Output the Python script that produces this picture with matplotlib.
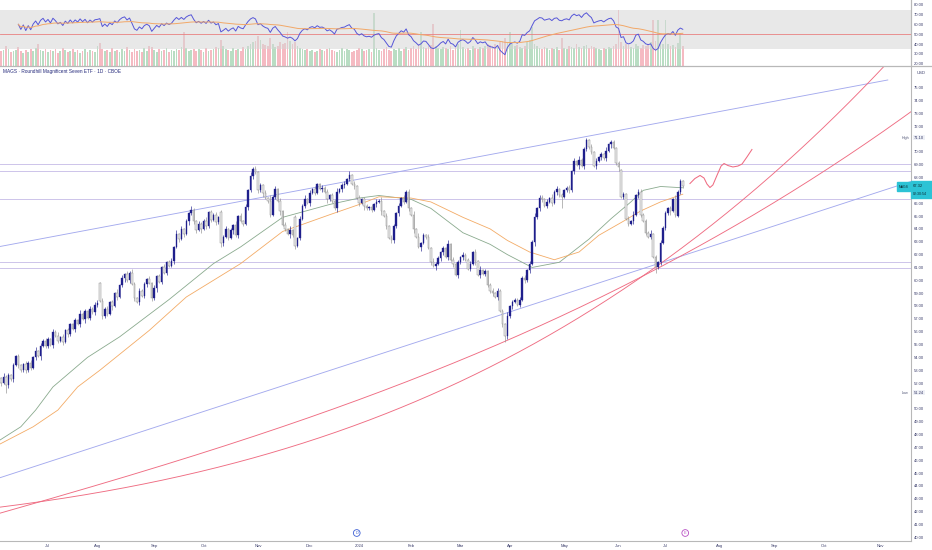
import numpy as np
import pandas as pd
import matplotlib
matplotlib.use("Agg")
import matplotlib.pyplot as plt
from matplotlib.patches import Rectangle
from matplotlib.lines import Line2D
from matplotlib.transforms import blended_transform_factory

plt.rcParams['font.family'] = ['Liberation Sans', 'DejaVu Sans']

first_day = "2023-06-02"
holidays = ["2023-06-19", "2023-07-04", "2023-09-04", "2023-11-23", "2023-12-25",
            "2024-01-01", "2024-01-15", "2024-02-19", "2024-03-29", "2024-05-27",
            "2024-06-19", "2024-07-04", "2024-09-02", "2024-11-28"]

# daily closes, MAGS, 2 Jun 2023 .. 11 Jul 2024
closes = [
    52.4, 52.0, 52.5, 51.84, 52.6, 52.3, 53.4, 54.1, 53.4, 53.0,
    53.5, 53.0, 53.6, 53.2, 54.0, 54.5, 54.1, 54.9, 55.3, 54.9,
    55.4, 55.0, 56.0, 55.7, 55.3, 55.6, 55.2, 56.1, 55.8, 56.6,
    56.2, 56.9, 56.6, 57.4, 57.0, 57.6, 57.1, 57.8, 57.5, 58.1,
    58.2, 58.4, 57.2, 57.8, 57.4, 58.3, 58.0, 59.0, 58.7, 59.6,
    60.2, 60.5, 60.0, 60.6, 59.7, 58.6, 58.3, 59.2, 58.8, 59.7,
    60.1, 59.8, 58.6, 59.4, 60.3, 59.9, 61.0, 60.6, 61.4, 61.1,
    61.5, 62.6, 63.6, 63.2, 64.0, 63.6, 64.6, 65.2, 65.5, 64.6,
    63.9, 64.4, 64.0, 64.6, 64.2, 65.3, 64.7, 65.1, 64.5, 64.9,
    62.9, 63.4, 64.0, 63.3, 63.9, 64.3, 63.5, 65.0, 64.6, 64.4,
    65.7, 67.0, 68.1, 68.7, 68.4, 67.0, 67.4, 66.8, 66.4, 66.2,
    65.1, 66.5, 67.1, 66.2, 65.4, 64.3, 64.0, 63.6, 63.9, 63.5,
    62.7, 63.3, 64.8, 65.8, 66.3, 66.0, 66.8, 67.1, 66.8, 67.5,
    67.1, 67.2, 66.9, 66.3, 66.6, 66.2, 65.6, 66.9, 67.1, 67.4,
    67.5, 67.9, 68.2, 67.5, 67.3, 66.4, 66.0, 66.3, 65.8, 65.6,
    65.7, 65.5, 65.9, 66.1, 66.2, 65.4, 65.0, 64.2, 63.3, 63.1,
    64.2, 65.2, 65.8, 66.4, 66.1, 66.9, 65.6, 65.1, 64.0, 63.4,
    62.6, 62.9, 63.5, 63.4, 62.5, 61.4, 61.1, 61.3, 61.7, 62.2,
    62.5, 61.8, 62.8, 61.6, 61.3, 60.4, 61.4, 61.8, 62.0, 61.6,
    60.9, 61.3, 62.2, 61.5, 60.4, 60.8, 60.5, 60.7, 59.6, 59.2,
    59.0, 58.7, 59.2, 57.6, 56.6, 55.7, 57.2, 58.0, 58.3, 58.5,
    58.1, 58.5, 60.2, 60.0, 60.8, 61.3, 63.0, 64.9, 65.6, 66.4,
    66.3, 65.8, 66.1, 66.4, 66.0, 66.9, 67.1, 66.6, 66.5, 67.0,
    67.2, 67.0, 68.5, 69.3, 69.0, 69.4, 68.9, 70.2, 70.9, 70.4,
    70.0, 68.9, 69.3, 69.6, 69.8, 69.5, 70.1, 70.6, 70.8, 70.3,
    69.1, 68.8, 66.5, 66.7, 64.8, 64.4, 64.6, 65.1, 66.6, 66.9,
    65.1, 64.6, 63.7, 63.4, 63.6, 61.8, 61.0, 61.4, 62.9, 64.1,
    65.2, 65.6, 65.4, 66.3, 65.1, 66.9, 67.7, 67.32,
]
gap_opens = {0: 52.1, 41: 59.8, 90: 65.3, 120: 64.9, 252: 68.6, 275: 65.0}
# wicks in tenths of a dollar above / below the body
wick_up = ("2131212121" "1212131212" "2121312121" "1213121212" "3121212131"
           "2121321212" "1212121312" "2131212131" "1212312121" "2121213121"
           "2131212121" "4121212131" "2121312121" "1212121312" "2131212121"
           "1212131212" "2121212131" "3121213121" "2131212121" "1212131212"
           "2121213121" "1212121312" "2121312121" "1212131221" "2121213111"
           "1212121312" "2121312121" "21213121")
wick_dn = ("2216212121" "1212121312" "2131212121" "1212131212" "2121213121"
           "1312121212" "2121312121" "1212121312" "2131212121" "3212131212"
           "1212121312" "2121312131" "3121212121" "1213121312" "2121212131"
           "1212131212" "2121212131" "1312121312" "2121312121" "1213121212"
           "2121253121" "1212121312" "2121213191" "1212131212" "2121212131"
           "1312121212" "2121214121" "21312121")
volumes = [
    18, 15, 16, 20, 17, 14, 15, 16, 19, 15, 13, 16, 14, 17, 15, 18, 22, 16, 15, 17,
    14, 16, 15, 17, 13, 15, 18, 16, 14, 15, 17, 14, 16, 13, 15, 17, 14, 16, 15, 14,
    20, 23, 17, 15, 16, 14, 18, 15, 16, 14, 17, 15, 19, 16, 14, 17, 15, 16, 14, 18,
    15, 20, 19, 16, 14, 17, 15, 16, 18, 14, 16, 15, 17, 16, 19, 34, 18, 15, 16, 17,
    15, 17, 16, 14, 18, 15, 16, 17, 19, 18, 26, 20, 17, 16, 15, 18, 16, 17, 15, 19,
    17, 20, 22, 24, 25, 30, 26, 22, 21, 20, 28, 22, 19, 20, 24, 22, 23, 34, 25, 22,
    24, 20, 18, 17, 16, 17, 15, 16, 14, 15, 17, 16, 15, 17, 18, 16, 15, 14, 16, 18,
    15, 17, 16, 14, 15, 16, 18, 17, 15, 16, 17, 14, 53, 18, 16, 15, 17, 19, 16, 15,
    17, 16, 18, 15, 17, 19, 16, 18, 20, 17, 22, 34, 19, 18, 20, 21, 42, 20, 18, 17,
    19, 18, 17, 20, 16, 18, 22, 36, 19, 17, 18, 16, 20, 18, 17, 19, 18, 20, 22, 21,
    20, 22, 19, 24, 25, 28, 23, 34, 22, 20, 21, 19, 18, 20, 24, 26, 39, 22, 20, 18,
    17, 19, 18, 16, 18, 17, 19, 16, 28, 18, 17, 20, 19, 18, 22, 19, 18, 20, 21, 18,
    20, 19, 18, 17, 16, 18, 17, 19, 18, 20, 22, 56, 24, 20, 22, 21, 19, 18, 22, 20,
    18, 21, 20, 22, 24, 46, 25, 46, 24, 22, 46, 22, 20, 21, 19, 23, 33, 20,
]

# moving averages (bar number, value)
ma_fast_bar = [0, 9, 15, 22, 36, 49, 69, 87, 98, 115, 134, 146, 154, 167, 175,
               188, 199, 206, 216, 227, 239, 248, 256, 261, 268, 277]
ma_fast = [47.5, 48.6, 49.9, 51.7, 54.0, 55.6, 58.5, 61.3, 62.6, 64.9, 65.9, 66.4,
           66.6, 66.3, 65.6, 63.7, 62.8, 62.0, 61.0, 61.4, 63.2, 64.8, 66.1, 67.0,
           67.3, 67.2]
ma_slow_bar = [0, 14, 24, 32, 41, 61, 76, 98, 115, 134, 146, 154, 167, 175, 188,
               199, 206, 215, 225, 235, 243, 253, 260, 268, 277]
ma_slow = [47.2, 48.6, 49.9, 51.7, 53.0, 56.1, 58.7, 61.3, 63.8, 65.1, 65.9, 66.5,
           66.4, 66.1, 64.9, 64.0, 63.1, 62.2, 61.6, 62.2, 63.5, 64.6, 65.4, 66.1,
           66.7]

levels = [69.03, 68.49, 66.29, 61.40, 60.94]
upper_line = [("2023-06-02", 62.61), ("2024-11-06", 75.59)]
lower_line = [("2023-06-02", 44.60), ("2024-11-19", 67.67)]
arc_a_bar = [0.6, 81.5, 194.9, 265.7, 308.3, 358.0]
arc_a_price = [42.38, 45.00, 53.02, 60.96, 67.28, 76.62]
arc_b_bar = [0.6, 81.5, 175.9, 265.7, 308.3, 369.0]
arc_b_price = [41.91, 46.40, 53.02, 60.88, 65.24, 73.12]
path_bar = [279.9, 281.9, 284.0, 285.6, 286.8, 288.0, 289.2, 290.9, 292.5, 293.7,
            295.3, 297.3, 299.3, 301.0, 303.0, 305.0]
path_price = [67.53, 67.92, 68.16, 67.96, 67.49, 67.22, 67.42, 68.19, 68.89, 69.09,
              68.93, 68.82, 68.89, 69.05, 69.60, 70.18]
events = [("D", "2023-12-29", "#3d5fd4"), ("E", "2024-07-12", "#b84fc4")]

UP = "#1f1f8c"
DN_FACE = "#ececec"
DN_EDGE = "#909090"
TXT = "#3a3d6b"
TREND = "#a4aaee"
ARC = "#ef6c82"

days = pd.bdate_range(first_day, "2024-12-31")
days = days[~days.isin(pd.to_datetime(holidays))]
bar_of = {d.strftime("%Y-%m-%d"): i for i, d in enumerate(days)}

c = np.array(closes)
n = len(c)
x = np.arange(n)
o = np.r_[c[0], c[:-1]]
for k, v in gap_opens.items():
    o[k] = v
hi = np.maximum(o, c) + np.array([int(ch) for ch in wick_up]) / 10
lo = np.minimum(o, c) - np.array([int(ch) for ch in wick_dn]) / 10
up = c >= o

# RSI-type oscillator and its average
cs = pd.Series(c)
d = cs.diff()
gain = d.clip(lower=0).ewm(alpha=1 / 21, adjust=True, min_periods=8).mean()
loss = (-d.clip(upper=0)).ewm(alpha=1 / 21, adjust=True, min_periods=8).mean()
rsi = 100 - 100 / (1 + gain / loss)
rsi_ma = rsi.ewm(span=50, adjust=True).mean()

fig = plt.figure(figsize=(9.32, 5.5), dpi=100)
W, H = 932, 550
ax = fig.add_axes([0, 9 / H, 911 / W, 474 / H])
axt = fig.add_axes([0, (H - 66.5) / H, 911 / W, 66.5 / H])
axv = axt.twinx()
axv.set_zorder(axt.get_zorder() - 1)
axt.patch.set_visible(False)

xlim = (0.57, 369.4)

# ---- top panel
axv.bar(x, volumes, width=0.7, color=np.where(up, "#b9ddc3", "#f5bac2"), lw=0)
axv.set_ylim(0, 66.5)
axv.set_yticks([])
axt.axhspan(35, 75, color="#d6d6d6", alpha=0.55, lw=0, zorder=0)
axt.axhline(50, color="#e98080", lw=0.6)
axt.plot(x, rsi, color="#5656d8", lw=0.7)
axt.plot(x, rsi_ma, color="#f2a868", lw=0.7)
axt.set_ylim(17.0, 85.1)
axt.set_xlim(*xlim)
axt.yaxis.tick_right()
axt.set_yticks(range(20, 81, 10))
axt.set_yticklabels([f"{v:.2f}" for v in range(20, 81, 10)])
axt.tick_params(axis="y", length=0, pad=2.2, labelsize=3.0, labelcolor=TXT)
axt.set_xticks([])
for a in (axt, axv):
    for s in ("left", "top", "bottom"):
        a.spines[s].set_visible(False)
    a.spines["right"].set_color("#b8b8b8")
    a.spines["right"].set_linewidth(0.8)

# ---- main panel
for lv in levels:
    ax.axhline(lv, color="#cdc4ea", lw=0.7, zorder=1)

(d1, p1), (d2, p2) = upper_line
ax.plot([bar_of[d1], bar_of[d2]], [p1, p2], color=TREND, lw=0.65, zorder=1)
(d1, p1), (d2, p2) = lower_line
ax.axline((bar_of[d1], p1), (bar_of[d2], p2), color=TREND, lw=0.65, zorder=1)

xs = np.linspace(-2, 372, 500)
for bars, prices in ((arc_a_bar, arc_a_price), (arc_b_bar, arc_b_price)):
    fit = np.polyfit(bars, prices, 3)
    ax.plot(xs, np.polyval(fit, xs), color=ARC, lw=0.65, zorder=1)

ax.plot(ma_fast_bar, ma_fast, color="#8aaa8e", lw=0.6, zorder=2)
ax.plot(ma_slow_bar, ma_slow, color="#f3ab66", lw=0.6, zorder=2)

ax.vlines(x[up], lo[up], hi[up], color=UP, lw=0.45, zorder=3)
ax.vlines(x[~up], lo[~up], hi[~up], color=DN_EDGE, lw=0.45, zorder=3)
body = np.maximum(np.abs(c - o), 0.06)
ax.bar(x[up], body[up], bottom=o[up], width=0.62, color=UP, edgecolor=UP, lw=0.25, zorder=4)
ax.bar(x[~up], body[~up], bottom=c[~up], width=0.62, color=DN_FACE, edgecolor=DN_EDGE,
       lw=0.35, zorder=4)

ax.plot(path_bar, path_price, color=ARC, lw=0.75, zorder=4)

ax.set_xlim(*xlim)
ax.set_ylim(39.71, 76.60)

month_pos, month_lab = [], []
for i in range(1, 372):
    if days[i].month != days[i - 1].month:
        month_pos.append(i)
        month_lab.append(str(days[i].year) if days[i].month == 1 else days[i].strftime("%b"))
ax.set_xticks(month_pos)
ax.set_xticklabels(month_lab)
ax.tick_params(axis="x", length=0, pad=2.0, labelsize=3.0, labelcolor=TXT)

yt = [v for v in range(40, 76) if v not in (51, 67, 71)]
ax.yaxis.tick_right()
ax.set_yticks(yt)
ax.set_yticklabels([f"{v:.2f}" for v in yt])
ax.tick_params(axis="y", length=0, pad=2.2, labelsize=3.0, labelcolor=TXT)
for s in ("left", "top"):
    ax.spines[s].set_visible(False)
for s in ("right", "bottom"):
    ax.spines[s].set_color("#b8b8b8")
    ax.spines[s].set_linewidth(0.8)

fig.add_artist(Line2D([0, 1], [1 - 66.5 / H, 1 - 66.5 / H], color="#b8b8b8", lw=0.9))

ax.text(3 / 911, (541 - 72) / 474, "MAGS · Roundhill Magnificent Seven ETF · 1D · CBOE",
        transform=ax.transAxes, fontsize=3.4, color="#23287a", va="center", ha="left")
fig.text(921 / W, 1 - 73 / H, "USD", fontsize=3.0, color=TXT, ha="center", va="center")

tr = blended_transform_factory(ax.transAxes, ax.transData)
last = c[-1]
ax.add_patch(Rectangle((1.0, last - 0.93), 21 / 911, 1.32, transform=tr, color="#2cc3d5",
                       clip_on=False, zorder=6))
ax.add_patch(Rectangle((1.0 - 14 / 911, last - 0.38), 14 / 911, 0.70, transform=tr,
                       color="#2cc3d5", clip_on=False, zorder=6))
ax.text(1.0 + 2 / 911, last + 0.02, f"{last:.2f}", transform=tr, fontsize=3.0,
        color="#0d2a33", va="center", ha="left", clip_on=False, zorder=7)
ax.text(1.0 + 2 / 911, last - 0.58, "02:30:54", transform=tr, fontsize=2.6,
        color="#0d2a33", va="center", ha="left", clip_on=False, zorder=7)
ax.text(1.0 - 7 / 911, last - 0.03, "MAGS", transform=tr, fontsize=2.4,
        color="#0d2a33", va="center", ha="center", clip_on=False, zorder=7)

for name, val in (("High", hi.max()), ("Low", lo.min())):
    ax.text(1.0 - 2 / 911, val, name, transform=tr, fontsize=2.7, color="#555a7a",
            va="center", ha="right", clip_on=False, zorder=7)
    ax.text(1.0 + 3 / 911, val, f"{val:.2f}", transform=tr, fontsize=3.0, color=TXT,
            va="center", ha="left", clip_on=False, zorder=7,
            bbox=dict(boxstyle="square,pad=0.15", fc="#eef0f6", ec="none"))

trx = blended_transform_factory(ax.transData, ax.transAxes)
for letter, day, col in events:
    ax.text(bar_of[day], 8 / 474, letter, transform=trx, fontsize=2.8, color=col,
            ha="center", va="center", zorder=7,
            bbox=dict(boxstyle="circle,pad=0.35", fc="white", ec=col, lw=0.6))

fig.savefig("out.png", dpi=100)
